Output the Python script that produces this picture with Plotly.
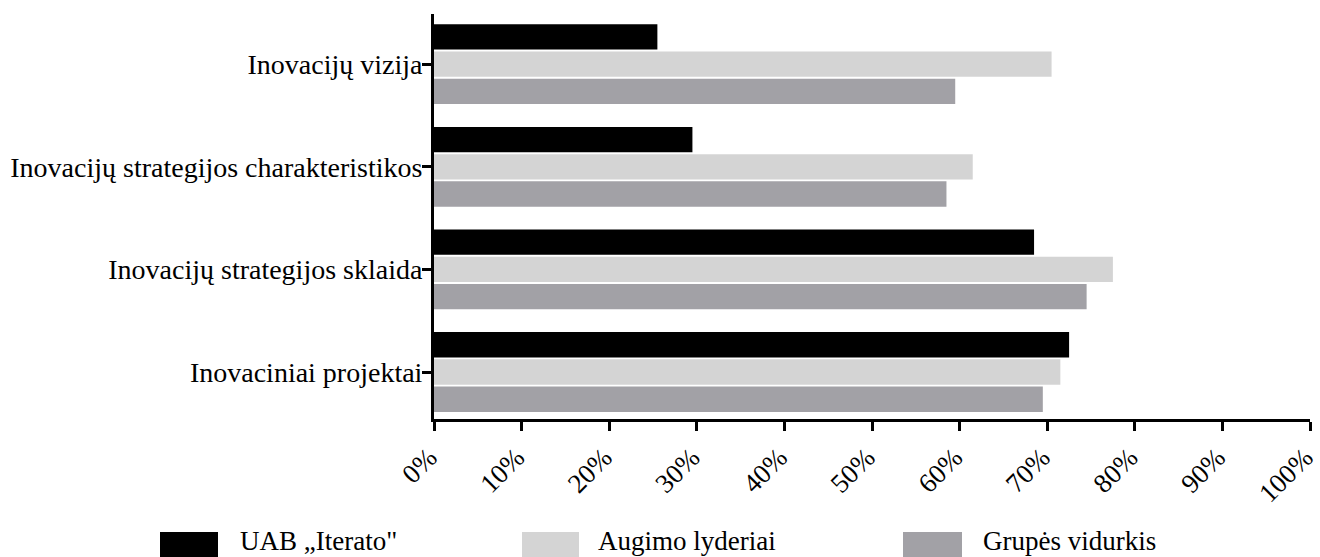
import plotly.graph_objects as go

categories = ["Inovacijų vizija", "Inovacijų strategijos charakteristikos",
              "Inovacijų strategijos sklaida", "Inovaciniai projektai"]
series_names = ["UAB „Iterato\"", "Augimo lyderiai", "Grupės vidurkis"]
uab_values = [25.5, 29.5, 68.5, 72.5]
augimo_values = [70.5, 61.5, 77.5, 71.5]
grupes_values = [59.5, 58.5, 74.5, 69.5]
x_ticks = [0, 10, 20, 30, 40, 50, 60, 70, 80, 90, 100]
x_tick_labels = [f"{v}%" for v in x_ticks]

colors = ["#000000", "#d4d4d4", "#a2a1a6"]
series_values = [uab_values, augimo_values, grupes_values]

W, H = 1320, 557
ML, MR, MT, MB = 434, 10, 14, 138
PW, PH = W - ML - MR, H - MT - MB
FONT = "Liberation Serif"

fig = go.Figure()
for name, vals, col in zip(series_names, series_values, colors):
    fig.add_trace(go.Bar(
        y=categories, x=vals, name=name, orientation="h",
        marker=dict(color=col, line=dict(width=0)),
        showlegend=False,
    ))

def px_x(X):
    return (X - ML) / PW

def px_y(Y):
    return (H - MB - Y) / PH

# custom legend (large swatches like the reference)
legend_boxes = [(160, 218, 238), (522, 579, 596), (903, 962, 981)]
shapes = []
annotations = []
for (x0, x1, tx), name, col in zip(legend_boxes, series_names, colors):
    shapes.append(dict(type="rect", xref="paper", yref="paper",
                       x0=px_x(x0), x1=px_x(x1), y0=px_y(532), y1=px_y(562),
                       fillcolor=col, line=dict(width=0)))
    annotations.append(dict(xref="paper", yref="paper", x=px_x(tx), y=px_y(541),
                            xanchor="left", yanchor="middle", showarrow=False,
                            text=name, font=dict(family=FONT, size=27, color="black")))

fig.update_layout(
    width=W, height=H,
    margin=dict(l=ML, r=MR, t=MT, b=MB, autoexpand=False),
    paper_bgcolor="white", plot_bgcolor="white",
    barmode="group", bargap=0.204, bargroupgap=0.07,
    font=dict(family=FONT, size=27, color="black"),
    shapes=shapes, annotations=annotations,
    xaxis=dict(range=[0, 100], tickvals=x_ticks, ticktext=x_tick_labels,
               tickangle=-45, showgrid=False, zeroline=False, automargin=False,
               showline=True, linecolor="black", linewidth=3,
               ticks="outside", ticklen=9, tickwidth=3, tickcolor="black",
               ticklabeloverflow="allow", ticklabelshift=-5,
               tickfont=dict(family=FONT, size=27, color="black")),
    yaxis=dict(range=[3.458, -0.489], type="category", automargin=False,
               showgrid=False, zeroline=False,
               showline=True, linecolor="black", linewidth=3,
               ticks="outside", ticklen=9, tickwidth=3, tickcolor="black",
               ticklabelstandoff=-6,
               tickfont=dict(family=FONT, size=28, color="black")),
)

fig.write_html("out.html")
